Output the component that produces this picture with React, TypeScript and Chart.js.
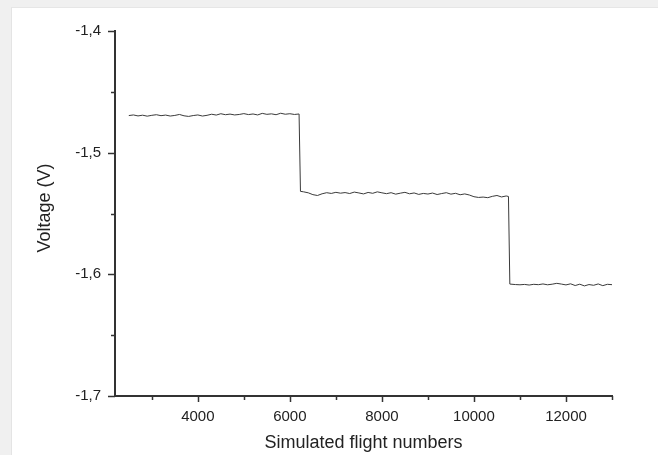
import React, { useEffect, useRef } from "react";
import { Chart, registerables } from "chart.js";

Chart.register(...registerables);

const flights: number[] = [
  2500, 2600, 2700, 2800, 2900, 3000, 3100, 3200, 3300, 3400,
  3500, 3600, 3700, 3800, 3900, 4000, 4100, 4200, 4300, 4400,
  4500, 4600, 4700, 4800, 4900, 5000, 5100, 5200, 5300, 5400,
  5500, 5600, 5700, 5800, 5900, 6000, 6100, 6200,
  6230, 6300, 6400, 6500, 6600, 6700, 6800, 6900, 7000, 7100,
  7200, 7300, 7400, 7500, 7600, 7700, 7800, 7900, 8000,
  8100, 8200, 8300, 8400, 8500, 8600, 8700, 8800, 8900,
  9000, 9100, 9200, 9300, 9400, 9500, 9600, 9700, 9800,
  9900, 10000, 10100, 10200, 10300, 10400, 10500, 10600, 10700, 10750,
  10780, 10900, 11000, 11100, 11200, 11300, 11400, 11500, 11600, 11700, 11800, 11900,
  12000, 12100, 12200, 12300, 12400, 12500, 12600, 12700, 12800, 12900, 13000,
];

const voltage: number[] = [
  -1.4695, -1.469, -1.4698, -1.4692, -1.47, -1.4693, -1.4688, -1.4696, -1.4691, -1.4699,
  -1.4694, -1.4686, -1.4697, -1.4702, -1.4695, -1.469, -1.4699, -1.4693, -1.4684, -1.4691,
  -1.468, -1.4688, -1.4683, -1.469, -1.4686, -1.4679, -1.4687, -1.4682, -1.469, -1.4677,
  -1.4685, -1.4681, -1.4688, -1.4676, -1.4684, -1.468, -1.4686, -1.4682,
  -1.5318, -1.5322, -1.533, -1.5345, -1.5352, -1.5338, -1.5329, -1.5335, -1.5326, -1.5333,
  -1.5328, -1.5336, -1.5324, -1.5331, -1.5339, -1.5327, -1.5334, -1.5322, -1.533,
  -1.5337, -1.5329, -1.5341, -1.5333, -1.5326, -1.5338, -1.5331, -1.5343, -1.5335,
  -1.534, -1.5332, -1.5344, -1.5336, -1.5329, -1.5341, -1.5334, -1.5346, -1.5339,
  -1.5348, -1.5362, -1.5368, -1.5365, -1.537, -1.5359, -1.5352, -1.5364, -1.5356, -1.536,
  -1.608, -1.6084, -1.6086, -1.6083, -1.6088, -1.6082, -1.6085, -1.6079, -1.6086, -1.6081, -1.6074, -1.608,
  -1.6087, -1.6078, -1.6092, -1.6081, -1.6095, -1.6084, -1.609, -1.6079, -1.6093, -1.6082, -1.6085,
];

const xMajorTicks: number[] = [4000, 6000, 8000, 10000, 12000];
const xMinorTicks: number[] = [3000, 5000, 7000, 9000, 11000, 13000];
const yMajorTicks: number[] = [-1.7, -1.6, -1.5, -1.4];
const yMinorTicks: number[] = [-1.65, -1.55, -1.45];

const xTitle = "Simulated flight numbers";
const yTitle = "Voltage (V)";

const AXIS_COLOR = "#333333";
const TEXT_COLOR = "#222222";
const FONT = "'Liberation Sans', Arial, sans-serif";

const tickPlugin = {
  id: "customTicks",
  afterDraw(chart: any) {
    const ctx = chart.ctx;
    const xs = chart.scales.x;
    const ys = chart.scales.y;
    const area = chart.chartArea;
    ctx.save();
    ctx.strokeStyle = AXIS_COLOR;
    ctx.lineWidth = 1.5;
    const drawX = (vals: number[], len: number) => {
      vals.forEach((v) => {
        const px = Math.round(xs.getPixelForValue(v)) + 0.5;
        ctx.beginPath();
        ctx.moveTo(px, area.bottom);
        ctx.lineTo(px, area.bottom + len);
        ctx.stroke();
      });
    };
    const drawY = (vals: number[], len: number) => {
      vals.forEach((v) => {
        const py = Math.round(ys.getPixelForValue(v)) + 0.5;
        ctx.beginPath();
        ctx.moveTo(area.left, py);
        ctx.lineTo(area.left - len, py);
        ctx.stroke();
      });
    };
    drawX(xMajorTicks, 6);
    drawX(xMinorTicks, 4);
    drawY(yMajorTicks, 7);
    drawY(yMinorTicks, 4);

    // y axis title
    ctx.fillStyle = TEXT_COLOR;
    ctx.font = `18px ${FONT}`;
    ctx.textAlign = "center";
    ctx.textBaseline = "middle";
    ctx.translate(33, 200);
    ctx.rotate(-Math.PI / 2);
    ctx.fillText(yTitle, 0, 0);
    ctx.restore();
  },
};

export default function App() {
  const ref = useRef<HTMLCanvasElement | null>(null);

  useEffect(() => {
    if (!ref.current) return;
    const points = flights.map((f, i) => ({ x: f, y: voltage[i] }));
    const chart = new Chart(ref.current, {
      type: "line",
      data: {
        datasets: [
          {
            data: points,
            borderColor: "#3a3a3a",
            borderWidth: 1,
            pointRadius: 0,
            tension: 0,
            fill: false,
          },
        ],
      },
      options: {
        animation: false,
        responsive: false,
        maintainAspectRatio: false,
        layout: { padding: { top: 22, right: 46, bottom: 0, left: 0 } },
        plugins: {
          legend: { display: false },
          tooltip: { enabled: false },
        },
        scales: {
          x: {
            type: "linear",
            min: 2200,
            max: 13000,
            afterBuildTicks: (s: any) => {
              s.ticks = xMajorTicks.map((v) => ({ value: v }));
            },
            afterFit: (s: any) => {
              s.height = 59;
            },
            grid: { display: false, drawTicks: false },
            border: { display: true, color: AXIS_COLOR, width: 2 },
            ticks: {
              padding: 12,
              color: TEXT_COLOR,
              font: { family: FONT, size: 15 },
              maxRotation: 0,
              autoSkip: false,
              callback: (v: any) => String(v),
            },
            title: {
              display: true,
              text: xTitle,
              color: TEXT_COLOR,
              font: { family: FONT, size: 18 },
              padding: { top: 0, bottom: 1 },
            },
          },
          y: {
            type: "linear",
            min: -1.7,
            max: -1.4,
            afterBuildTicks: (s: any) => {
              s.ticks = yMajorTicks.map((v) => ({ value: v }));
            },
            afterFit: (s: any) => {
              s.width = 103;
            },
            grid: { display: false, drawTicks: false },
            border: { display: true, color: AXIS_COLOR, width: 2 },
            ticks: {
              padding: 14,
              color: TEXT_COLOR,
              font: { family: FONT, size: 15 },
              autoSkip: false,
              callback: (v: any) => Number(v).toFixed(1).replace(".", ","),
            },
            title: { display: false },
          },
        },
      },
      plugins: [tickPlugin],
    });
    return () => chart.destroy();
  }, []);

  return (
    <div
      style={{
        position: "fixed",
        left: 0,
        top: 0,
        width: 658,
        height: 455,
        background: "#f0f0f0",
        overflow: "hidden",
      }}
    >
      <div
        style={{
          position: "absolute",
          left: 11,
          top: 7,
          width: 647,
          height: 448,
          background: "#ffffff",
          borderLeft: "1px solid #e4e4e4",
          borderTop: "1px solid #e6e6e6",
          boxSizing: "border-box",
        }}
      >
        <canvas
          ref={ref}
          width={646}
          height={447}
          style={{ display: "block", width: 646, height: 447 }}
        />
      </div>
    </div>
  );
}
